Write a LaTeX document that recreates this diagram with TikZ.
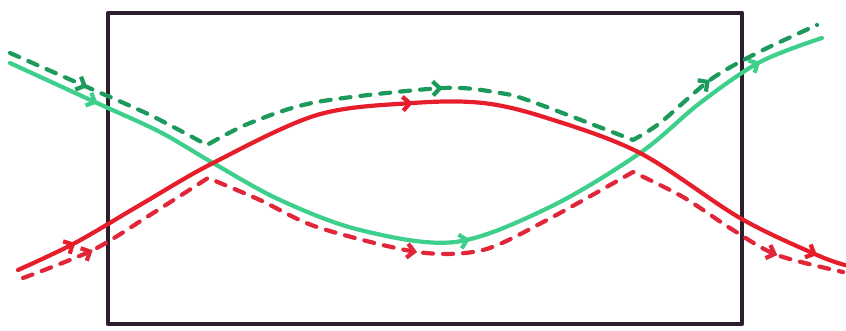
\documentclass[tikz,border=0pt]{standalone}
\usetikzlibrary{arrows.meta,decorations.markings}
\definecolor{frame}{HTML}{2B1F2F}
\definecolor{mint}{HTML}{3ECF8C}
\definecolor{dgreen}{HTML}{1C9A5C}
\definecolor{pen}{HTML}{E61E2C}
\definecolor{pendash}{HTML}{E02638}
\tikzset{
  x=1pt,y=-1pt,
  box/.style={draw=frame,line width=4.5pt,line join=round},
  solidline/.style={line width=4.2pt,line cap=round,line join=round},
  dashline/.style={line width=4.2pt,line cap=round,line join=round,dash pattern=on 10pt off 10pt},
  marks/.style n args={3}{postaction={decorate,decoration={markings,
     mark=at position #1 with {\arrow[solid]{Straight Barb[length=7pt,width=14pt]}},
     mark=at position #2 with {\arrow[solid]{Straight Barb[length=7pt,width=14pt]}},
     mark=at position #3 with {\arrow[solid]{Straight Barb[length=7pt,width=14pt]}}}}}
}
\begin{document}
\begin{tikzpicture}
\useasboundingbox (0,0) rectangle (846,331);
\coordinate (tl) at (108,13);
\coordinate (br) at (742,324);
\draw[box] (tl) rectangle (br);
% green solid
\draw[solidline,draw=mint,marks={0.106}{0.55}{0.927}]
  plot[smooth,tension=0.55] coordinates {(10,63) (97,103) (160,132) (213,163) (280,200) (360,230) (455,242) (550,207) (640,153) (700,103) (760,62) (822,38)};
% red solid
\draw[solidline,draw=pen,marks={0.07}{0.48}{0.967}]
  plot[smooth,tension=0.55] coordinates {(18,270) (75,243) (140,205) (213,163) (317,115) (413,103) (483,103) (547,118) (640,153) (740,218) (817,255) (845,265)};
% green dashed
\draw[dashline,draw=dgreen,marks={0.096}{0.526}{0.863}]
  plot[smooth,tension=0.5] coordinates {(10,53) (87,87) (150,115) (207,145)}
  -- plot[smooth,tension=0.5] coordinates {(207,145) (250,123) (317,102) (443,88) (500,93) (533,102) (633,140)}
  -- plot[smooth,tension=0.5] coordinates {(633,140) (660,123) (710,80) (757,53) (817,25)};
% red dashed
\draw[dashline,draw=pendash,marks={0.083}{0.48}{0.925}]
  plot[smooth,tension=0.5] coordinates {(23,278) (93,250) (150,215) (208,178)}
  -- plot[smooth,tension=0.5] coordinates {(208,178) (260,200) (317,227) (417,252) (483,250) (547,220) (633,172)}
  -- plot[smooth,tension=0.5] coordinates {(633,172) (683,197) (733,230) (777,255) (843,272)};
\end{tikzpicture}
\end{document}
